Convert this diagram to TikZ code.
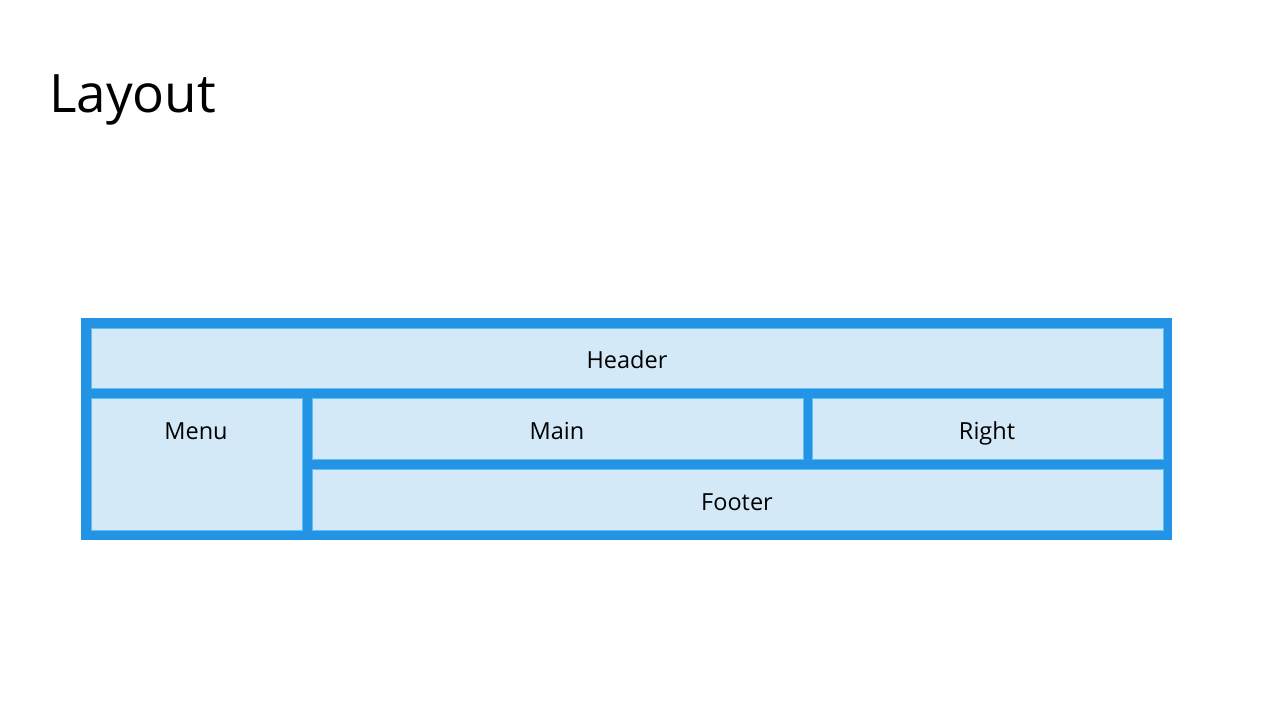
\documentclass[tikz,border=0pt]{standalone}
\usepackage{fontspec}
\setmainfont{Open Sans}
\definecolor{frameblue}{HTML}{2393E6}
\definecolor{cellfill}{HTML}{D3E9F7}
\definecolor{celledge}{HTML}{62BDF2}
\begin{document}
\begin{tikzpicture}[x=1pt,y=-1pt,
  cell/.style={fill=cellfill,draw=celledge,line width=0.8pt},
  lbl/.style={font=\fontsize{23.5}{28}\selectfont,text=black,inner sep=0pt,anchor=base}]
\useasboundingbox[fill=white] (0,0) rectangle (1272,708);
\node[anchor=base west,inner sep=0pt,font=\fontsize{53}{60}\selectfont] (title) at (49,113) {Layout};
\fill[frameblue] (81,318) rectangle (1172,540);
\path[cell] (91,328) rectangle (1163,388);
\path[cell] (91,398) rectangle (302,530);
\path[cell] (312,398) rectangle (803,459);
\path[cell] (812,398) rectangle (1163,459);
\path[cell] (312,469) rectangle (1163,530);
\node[lbl] (header) at (627,368.5) {Header};
\node[lbl] (menu) at (196,439.5) {Menu};
\node[lbl] (main) at (557,439.5) {Main};
\node[lbl] (right) at (987,439.5) {Right};
\node[lbl] (footer) at (737,510.5) {Footer};
\end{tikzpicture}
\end{document}
